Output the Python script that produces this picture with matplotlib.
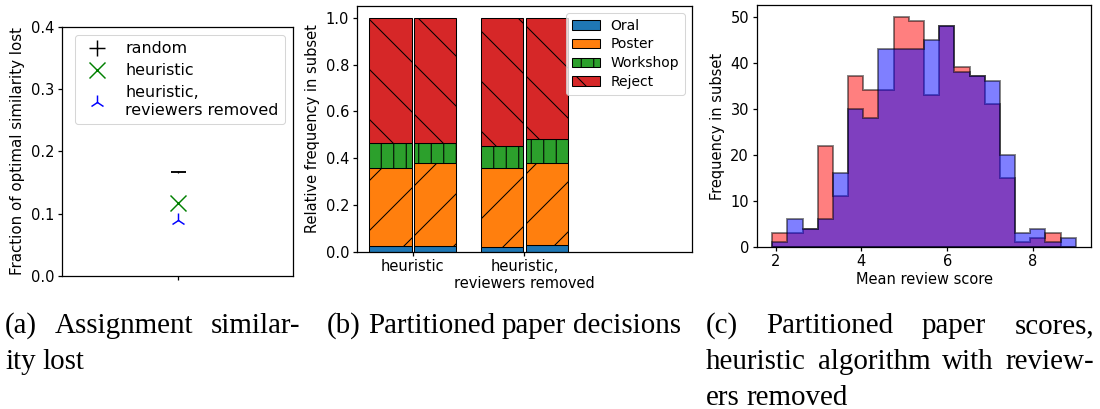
import matplotlib
matplotlib.use("Agg")
import matplotlib.pyplot as plt
import numpy as np
from matplotlib.lines import Line2D

# (a) assignment similarity lost
methods = ["random", "heuristic", "heuristic,\nreviewers removed"]
similarity_lost = [0.167, 0.117, 0.090]

# (b) decisions per partition: rows = algorithm, cols = subset 1 / subset 2
group_labels = ["heuristic", "heuristic,\nreviewers removed"]
decision_labels = ["Oral", "Poster", "Workshop", "Reject"]
oral_frac = [[0.026, 0.026], [0.023, 0.031]]
poster_frac = [[0.334, 0.353], [0.334, 0.348]]
workshop_frac = [[0.104, 0.086], [0.094, 0.102]]
reject_frac = [[0.536, 0.535], [0.549, 0.519]]

# (c) mean review score histograms (shared bins)
score_min, score_max, n_bins = 1.92, 9.0, 20
subset1_counts = [3, 3, 4, 22, 11, 37, 34, 34, 50, 49, 33, 48, 39, 37, 31, 15, 1, 2, 3, 0]
subset2_counts = [1, 6, 4, 6, 16, 30, 28, 43, 43, 43, 45, 48, 38, 37, 36, 20, 3, 4, 1, 2]

DPI = 150
plt.rcParams.update({
    "font.size": 7.0,
    "axes.linewidth": 0.6,
    "xtick.major.size": 1.8,
    "ytick.major.size": 1.8,
    "xtick.major.width": 0.6,
    "ytick.major.width": 0.6,
    "xtick.major.pad": 1.6,
    "ytick.major.pad": 2.0,
    "axes.labelpad": 2.5,
    "hatch.linewidth": 0.5,
    "patch.linewidth": 0.5,
})

fig = plt.figure(figsize=(1100 / DPI, 409 / DPI), dpi=DPI)
ax1 = fig.add_axes([0.0564, 0.3252, 0.2100, 0.6088])
ax2 = fig.add_axes([0.3245, 0.3839, 0.3045, 0.6015])
ax3 = fig.add_axes([0.6882, 0.3961, 0.3036, 0.5917])

# ---- (a)
ax1.errorbar([0], [similarity_lost[0]], yerr=0.0015, fmt="_", ms=7.2, mew=0.9,
             color="k", elinewidth=0.6)
ax1.plot([0], [similarity_lost[1]], ls="none", marker="x", ms=7.5, mew=0.7, color="g")
ax1.plot([0], [similarity_lost[2]], ls="none", marker="2", ms=7, mew=0.7, color="b")
handles = [
    Line2D([], [], ls="none", marker="+", ms=7.5, mew=0.7, color="k"),
    Line2D([], [], ls="none", marker="x", ms=7.5, mew=0.7, color="g"),
    Line2D([], [], ls="none", marker="2", ms=7, mew=0.7, color="b"),
]
ax1.legend(handles, methods, loc="upper right", numpoints=1, fontsize=7.6,
           labelspacing=0.45)
ax1.set_xlim(-1, 1)
ax1.set_xticks([0])
ax1.set_xticklabels([""])
ax1.set_ylim(0, 0.4)
ax1.set_yticks([0.0, 0.1, 0.2, 0.3, 0.4])
ax1.set_ylabel("Fraction of optimal similarity lost", fontsize=7.2)

# ---- (b)
parts = [np.array(oral_frac), np.array(poster_frac),
         np.array(workshop_frac), np.array(reject_frac)]
colors = ["tab:blue", "tab:orange", "tab:green", "tab:red"]
hatches = [None, "/", "||", "\\"]
x = np.arange(len(group_labels))
for j, offset in enumerate([-0.2, 0.2]):
    bottom = np.zeros(len(group_labels))
    for part, label, color, hatch in zip(parts, decision_labels, colors, hatches):
        ax2.bar(x + offset, part[:, j], 0.38, bottom=bottom, color=color,
                edgecolor="k", hatch=hatch, label=label if j == 0 else None)
        bottom += part[:, j]
ax2.set_xlim(-0.5, 2.5)
ax2.set_xticks(x)
ax2.set_xticklabels(group_labels)
ax2.set_ylabel("Relative frequency in subset")
ax2.legend(loc="upper right", fontsize=6.7, labelspacing=0.35)

# ---- (c)
edges = np.linspace(score_min, score_max, n_bins + 1)
centers = (edges[:-1] + edges[1:]) / 2
ax3.hist(centers, bins=edges, weights=subset1_counts, histtype="stepfilled",
         color="red", edgecolor="k", alpha=0.5, lw=0.9)
ax3.hist(centers, bins=edges, weights=subset2_counts, histtype="stepfilled",
         color="blue", edgecolor="k", alpha=0.5, lw=0.9)
ax3.set_xticks([2, 4, 6, 8])
ax3.set_xlabel("Mean review score", labelpad=1.5)
ax3.set_ylabel("Frequency in subset")

# ---- captions (justified like the paper)
cap_font = dict(family=["Liberation Serif", "DejaVu Serif"], size=13.9)
renderer = fig.canvas.get_renderer()
W, H = 1100, 409


def caption_line(words, x0, y, x1=None):
    texts = [fig.text(0, 1 - y / H, w, va="baseline", ha="left", **cap_font) for w in words]
    widths = [t.get_window_extent(renderer).width for t in texts]
    if x1 is None or len(words) == 1:
        gap = 7.0
    else:
        gap = (x1 - x0 - sum(widths)) / (len(words) - 1)
    pos = x0
    for t, w in zip(texts, widths):
        t.set_x(pos / W)
        pos += w + gap


caption_line(["(a)", "Assignment", "similar-"], 5, 333, 300)
caption_line(["ity", "lost"], 5, 369)
caption_line(["(b)", "Partitioned", "paper", "decisions"], 327, 333)
caption_line(["(c)", "Partitioned", "paper", "scores,"], 706, 333, 1094)
caption_line(["heuristic", "algorithm", "with", "review-"], 706, 369, 1094)
caption_line(["ers", "removed"], 706, 405)

fig.savefig("out.png", dpi=DPI)
